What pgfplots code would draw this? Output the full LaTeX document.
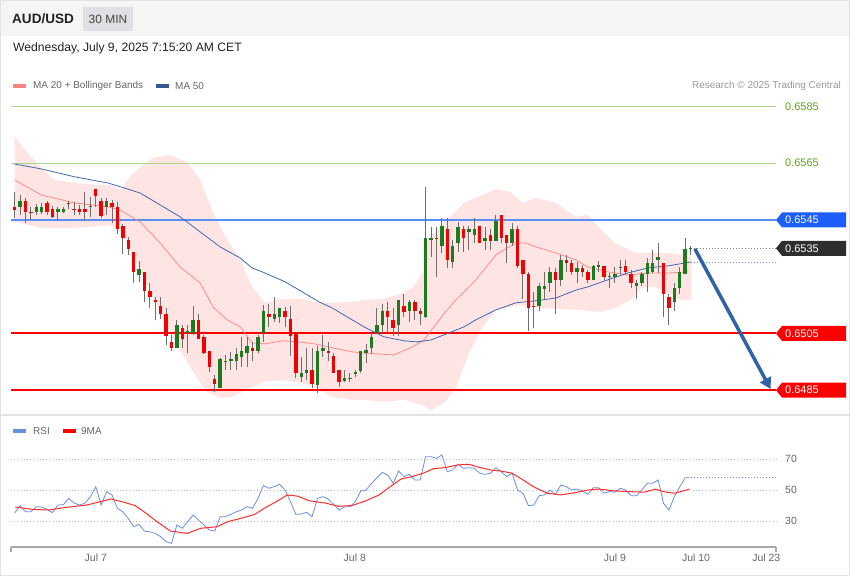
\documentclass[border=0pt]{standalone}
\usepackage{pgfplots}
\pgfplotsset{compat=1.18}
\usepackage{pgfplotstable}
\usepackage{fontspec}
\setmainfont{Liberation Sans}
\usetikzlibrary{arrows.meta}

\definecolor{hdr}{HTML}{F5F5F5}
\definecolor{boxg}{HTML}{E0E0E4}
\definecolor{txt}{HTML}{222222}
\definecolor{lgray}{HTML}{666666}
\definecolor{rgray}{HTML}{9A9A9A}
\definecolor{lvlgreen}{HTML}{A9D98B}
\definecolor{lvltxt}{HTML}{5CA11A}
\definecolor{lvlblue}{HTML}{5B8DF6}
\definecolor{tagblue}{HTML}{1E5EFF}
\definecolor{tagdark}{HTML}{2E2E2E}
\definecolor{lvlred}{HTML}{FF0000}
\definecolor{bbfill}{HTML}{FFE4E4}
\definecolor{ma20}{HTML}{FF8A8A}
\definecolor{ma50}{HTML}{3F68B2}
\definecolor{cup}{HTML}{1E7A1E}
\definecolor{cdn}{HTML}{F00000}
\definecolor{wick}{HTML}{6E6E6E}
\definecolor{arrowc}{HTML}{2F62A6}
\definecolor{rsic}{HTML}{6A8EE4}
\definecolor{mac}{HTML}{FF2E2E}
\definecolor{framec}{HTML}{E3E3E3}
\definecolor{axisg}{HTML}{A8A8A8}
\definecolor{gridg}{HTML}{BBBBBB}

\pgfplotstableread{
i O H L C
0 0.65497 0.65548 0.65456 0.65485
1 0.65497 0.65538 0.65468 0.65517
2 0.65517 0.65527 0.65438 0.65477
3 0.65479 0.65497 0.65450 0.65477
4 0.65477 0.65505 0.65468 0.65497
5 0.65477 0.65509 0.65471 0.65497
6 0.65509 0.65517 0.65468 0.65477
7 0.65489 0.65500 0.65456 0.65460
8 0.65477 0.65497 0.65448 0.65488
9 0.65477 0.65497 0.65475 0.65489
10 0.65511 0.65517 0.65488 0.65506
11 0.65489 0.65515 0.65468 0.65487
12 0.65488 0.65503 0.65468 0.65477
13 0.65488 0.65548 0.65448 0.65477
14 0.65496 0.65532 0.65460 0.65498
15 0.65558 0.65558 0.65497 0.65536
16 0.65517 0.65527 0.65456 0.65465
17 0.65497 0.65527 0.65468 0.65517
18 0.65509 0.65520 0.65438 0.65497
19 0.65497 0.65515 0.65401 0.65417
20 0.65429 0.65435 0.65329 0.65388
21 0.65380 0.65391 0.65327 0.65348
22 0.65338 0.65338 0.65229 0.65268
23 0.65256 0.65307 0.65233 0.65277
24 0.65268 0.65268 0.65159 0.65201
25 0.65200 0.65227 0.65139 0.65178
26 0.65168 0.65180 0.65098 0.65159
27 0.65148 0.65178 0.65100 0.65119
28 0.65119 0.65139 0.65010 0.65041
29 0.65019 0.65045 0.64989 0.64998
30 0.65000 0.65098 0.64998 0.65080
31 0.65068 0.65080 0.64998 0.65030
32 0.65053 0.65080 0.64980 0.65059
33 0.65053 0.65148 0.65045 0.65098
34 0.65098 0.65119 0.65031 0.65031
35 0.65039 0.65045 0.64978 0.64980
36 0.64989 0.64989 0.64913 0.64933
37 0.64890 0.64904 0.64843 0.64871
38 0.64857 0.64963 0.64857 0.64960
39 0.64951 0.64974 0.64921 0.64954
40 0.64951 0.64986 0.64921 0.64960
41 0.64951 0.64998 0.64921 0.64978
42 0.64968 0.65037 0.64933 0.64989
43 0.64980 0.65039 0.64930 0.65007
44 0.65000 0.65021 0.64951 0.64989
45 0.64989 0.65045 0.64980 0.65039
46 0.65051 0.65150 0.65021 0.65129
47 0.65119 0.65154 0.65074 0.65109
48 0.65100 0.65178 0.65092 0.65119
49 0.65109 0.65139 0.65086 0.65139
50 0.65129 0.65144 0.65074 0.65109
51 0.65100 0.65148 0.64971 0.65041
52 0.65047 0.65047 0.64893 0.64910
53 0.64898 0.64968 0.64880 0.64910
54 0.64910 0.64998 0.64886 0.64921
55 0.64921 0.64998 0.64857 0.64871
56 0.64869 0.65004 0.64839 0.64989
57 0.64989 0.65045 0.64968 0.65000
58 0.64989 0.65021 0.64951 0.64980
59 0.64971 0.64980 0.64910 0.64910
60 0.64921 0.64921 0.64860 0.64880
61 0.64883 0.64921 0.64880 0.64892
62 0.64890 0.64910 0.64880 0.64893
63 0.64906 0.64921 0.64898 0.64913
64 0.64919 0.64989 0.64912 0.64989
65 0.64980 0.65013 0.64947 0.64992
66 0.64998 0.65051 0.64980 0.65039
67 0.65053 0.65139 0.65051 0.65080
68 0.65080 0.65154 0.65051 0.65129
69 0.65129 0.65159 0.65051 0.65109
70 0.65098 0.65139 0.65041 0.65068
71 0.65080 0.65168 0.65041 0.65168
72 0.65148 0.65188 0.65109 0.65127
73 0.65129 0.65168 0.65090 0.65159
74 0.65159 0.65168 0.65098 0.65129
75 0.65129 0.65139 0.65080 0.65119
76 0.65109 0.65565 0.65104 0.65388
77 0.65380 0.65426 0.65321 0.65388
78 0.65388 0.65424 0.65250 0.65385
79 0.65358 0.65456 0.65333 0.65429
80 0.65417 0.65456 0.65280 0.65309
81 0.65300 0.65380 0.65280 0.65358
82 0.65368 0.65444 0.65338 0.65426
83 0.65417 0.65429 0.65338 0.65388
84 0.65407 0.65429 0.65344 0.65417
85 0.65397 0.65456 0.65368 0.65417
86 0.65429 0.65429 0.65368 0.65368
87 0.65377 0.65426 0.65344 0.65388
88 0.65397 0.65417 0.65344 0.65377
89 0.65377 0.65468 0.65377 0.65446
90 0.65468 0.65468 0.65368 0.65388
91 0.65397 0.65397 0.65297 0.65368
92 0.65368 0.65438 0.65358 0.65417
93 0.65417 0.65429 0.65280 0.65288
94 0.65309 0.65309 0.65171 0.65259
95 0.65259 0.65268 0.65060 0.65139
96 0.65148 0.65197 0.65068 0.65145
97 0.65148 0.65229 0.65129 0.65218
98 0.65207 0.65268 0.65168 0.65218
99 0.65229 0.65285 0.65197 0.65268
100 0.65268 0.65280 0.65119 0.65239
101 0.65239 0.65327 0.65218 0.65309
102 0.65309 0.65327 0.65268 0.65297
103 0.65297 0.65309 0.65256 0.65268
104 0.65268 0.65300 0.65229 0.65280
105 0.65280 0.65291 0.65248 0.65268
106 0.65268 0.65274 0.65229 0.65239
107 0.65239 0.65291 0.65239 0.65288
108 0.65285 0.65307 0.65268 0.65291
109 0.65288 0.65288 0.65239 0.65248
110 0.65250 0.65262 0.65209 0.65253
111 0.65248 0.65285 0.65229 0.65259
112 0.65280 0.65309 0.65259 0.65283
113 0.65288 0.65309 0.65259 0.65268
114 0.65259 0.65274 0.65209 0.65229
115 0.65218 0.65239 0.65171 0.65229
116 0.65229 0.65268 0.65218 0.65259
117 0.65259 0.65315 0.65197 0.65297
118 0.65268 0.65344 0.65262 0.65297
119 0.65309 0.65368 0.65262 0.65319
120 0.65297 0.65297 0.65109 0.65189
121 0.65178 0.65189 0.65080 0.65139
122 0.65159 0.65227 0.65129 0.65209
123 0.65209 0.65285 0.65189 0.65268
124 0.65259 0.65386 0.65259 0.65348
125 0.65348 0.65358 0.65327 0.65352
}\candles

\pgfplotstableread{
i rsi
0 35.2
1 39.9
2 36.0
3 36.0
4 39.2
5 39.0
6 37.5
7 35.4
8 40.3
9 40.5
10 44.6
11 41.5
12 40.3
13 41.5
14 45.7
15 52.1
16 40.3
17 48.9
18 46.8
19 38.2
20 35.9
21 31.7
22 26.3
23 27.8
24 23.5
25 23.0
26 22.0
27 19.9
28 16.7
29 15.6
30 27.4
31 25.3
32 29.6
33 33.9
34 30.7
35 27.4
36 24.2
37 23.5
38 32.8
39 32.8
40 34.3
41 36.0
42 37.1
43 39.2
44 38.2
45 44.6
46 52.8
47 51.1
48 52.2
49 53.7
50 50.0
51 42.5
52 34.3
53 34.5
54 35.6
55 32.8
56 44.6
57 45.7
58 44.2
59 40.8
60 37.1
61 39.2
62 39.2
63 42.5
64 49.4
65 50.0
66 54.3
67 57.9
68 61.4
69 59.6
70 54.3
71 62.2
72 58.6
73 60.1
74 56.5
75 56.5
76 71.5
77 71.5
78 70.4
79 72.6
80 61.8
81 62.9
82 66.6
83 64.0
84 64.4
85 64.0
86 60.8
87 60.1
88 60.8
89 64.4
90 61.8
91 58.6
92 60.8
93 50.0
94 47.9
95 39.9
96 40.3
97 46.3
98 46.8
99 50.0
100 47.2
101 53.2
102 52.2
103 50.0
104 50.6
105 49.4
106 47.2
107 51.5
108 51.5
109 47.9
110 49.0
111 48.6
112 51.1
113 50.0
114 46.3
115 46.3
116 50.0
117 54.3
118 54.3
119 56.5
120 41.4
121 37.1
122 45.7
123 52.1
124 57.9
125 57.9
}\rsidata

\newcommand{\fs}[1]{\fontsize{#1}{#1}\selectfont}

\begin{document}
\begin{tikzpicture}[x=1bp,y=1bp]
\fill[white] (0,0) rectangle (850,576);
\fill[hdr] (0,540) rectangle (850,576);
\draw[framec, line width=1bp] (0.5,0.5) rectangle (849.5,575.5);
\draw[framec, line width=1.2bp] (0,161) -- (850,161);

% header
\node[anchor=west, inner sep=0, text=txt, font=\bfseries\fs{13.6}] at (12,557) {AUD/USD};
\fill[boxg] (83,545) rectangle (133,569);
\node[inner sep=0, text=txt!85, font=\fs{12}] at (108,557) {30 MIN};
\node[anchor=west, inner sep=0, text=txt, font=\fs{12.2}] at (13,528) {Wednesday, July 9, 2025 7:15:20 AM CET};

% legend top
\fill[ma20!95!red] (13,487.5) rectangle (26,491.5);
\node[anchor=west, inner sep=0, text=lgray, font=\fs{10}] at (33,490) {MA 20 + Bollinger Bands};
\fill[ma50!85!black] (156,487.5) rectangle (169,491.5);
\node[anchor=west, inner sep=0, text=lgray, font=\fs{10}] at (175,490) {MA 50};
\node[anchor=east, inner sep=0, text=rgray, font=\fs{10}] at (841,490) {Research \textcopyright{} 2025 Trading Central};

% RSI legend
\fill[rsic] (13,143) rectangle (26,146.5);
\node[anchor=west, inner sep=0, text=lgray, font=\fs{10}] at (33,145) {RSI};
\fill[red] (63,143) rectangle (76,146.5);
\node[anchor=west, inner sep=0, text=lgray, font=\fs{10}] at (81,145) {9MA};

% ---------------- main price panel ----------------
\begin{axis}[
  at={(11bp,164bp)}, anchor=south west,
  width=765bp, height=316bp, scale only axis,
  xmin=-0.68, xmax=140.8, ymin=0.64773, ymax=0.65887,
  hide axis, clip=false,
]
% Bollinger band area
\addplot[draw=none, fill=bbfill] coordinates {
(0,0.65743) (1.9,0.65697) (4.9,0.65633) (7.4,0.65591) (11.1,0.65580) (14.8,0.65573) (17.6,0.65573) (19.5,0.65556) (21.9,0.65616) (25.6,0.65669) (28.7,0.65679) (31.9,0.65654) (34.3,0.65591) (36.7,0.65475) (39.3,0.65380) (41.7,0.65309) (43.9,0.65214) (46.3,0.65158) (49.4,0.65172) (52.6,0.65172) (55.5,0.65161) (58.7,0.65158) (62.4,0.65161) (64.6,0.65168) (68.3,0.65172) (72.0,0.65193) (73.8,0.65214) (75.7,0.65274) (76.4,0.65380) (79.4,0.65439) (83.1,0.65510) (85.3,0.65528) (89.0,0.65559) (91.6,0.65549) (94.0,0.65510) (96.4,0.65528) (100.1,0.65510) (103.8,0.65461) (106.0,0.65468) (108.4,0.65415) (111.0,0.65369) (114.7,0.65334) (118.4,0.65334) (120.8,0.65334) (125.1,0.65320)
(125.1,0.65168) (123.2,0.65168) (120.8,0.65193) (118.4,0.65214) (115.8,0.65210) (114.7,0.65179) (111.6,0.65143) (108.4,0.65126) (103.8,0.65133) (97.1,0.65140) (93.4,0.65150) (89.0,0.65133) (86.6,0.65073) (84.0,0.64981) (81.6,0.64858) (79.4,0.64805) (77.0,0.64780) (75.7,0.64795) (72.0,0.64816) (68.3,0.64809) (64.6,0.64816) (62.4,0.64816) (58.7,0.64826) (55.5,0.64862) (52.6,0.64876) (49.4,0.64886) (46.3,0.64879) (43.9,0.64862) (40.2,0.64826) (38.0,0.64823) (35.6,0.64844) (33.3,0.64904) (30.6,0.64992) (27.8,0.65080) (25.0,0.65203) (21.9,0.65327) (19.5,0.65408) (17.6,0.65432) (11.1,0.65422) (4.9,0.65422) (0,0.65443)
} -- cycle;

% level lines
\addplot[lvlgreen, line width=1bp] coordinates {(-0.68,0.6585) (140.8,0.6585)};
\addplot[lvlgreen, line width=1bp] coordinates {(-0.68,0.6565) (140.8,0.6565)};
\addplot[lvlblue, line width=1.6bp] coordinates {(-0.68,0.6545) (140.8,0.6545)};
\addplot[lvlred, line width=2bp] coordinates {(-0.68,0.6505) (140.8,0.6505)};
\addplot[lvlred, line width=2bp] coordinates {(-0.68,0.6485) (140.8,0.6485)};

% MA 20 and MA 50
\addplot[ma20, line width=0.8bp] coordinates {
(0,0.65591) (4.9,0.65538) (11.1,0.65510) (17.3,0.65496) (19.5,0.65485) (23.2,0.65443) (26.9,0.65369) (30.6,0.65284) (34.3,0.65228) (36.7,0.65143) (39.3,0.65098) (41.7,0.65073) (43.9,0.65017) (46.3,0.65013) (49.4,0.65024) (52.6,0.65020) (55.5,0.65013) (58.7,0.64999) (62.4,0.64985) (64.6,0.64981) (70.1,0.64974) (73.3,0.65000) (75.7,0.65027) (79.4,0.65120) (81.6,0.65168) (83.1,0.65196) (85.3,0.65239) (89.0,0.65327) (92.7,0.65369) (94.5,0.65369) (96.4,0.65355) (100.1,0.65334) (103.8,0.65309) (106.0,0.65284) (109.7,0.65267) (113.4,0.65256) (117.1,0.65263) (120.8,0.65263) (124.5,0.65267)};
\addplot[ma50, line width=0.8bp] coordinates {
(0,0.65647) (4.9,0.65630) (11.1,0.65602) (17.3,0.65580) (20.9,0.65559) (23.2,0.65545) (26.9,0.65503) (30.6,0.65461) (34.3,0.65408) (38.0,0.65355) (41.7,0.65316) (43.9,0.65281) (46.3,0.65263) (50.0,0.65232) (52.6,0.65203) (56.3,0.65161) (58.7,0.65140) (62.4,0.65098) (64.6,0.65073) (68.3,0.65038) (72.0,0.65024) (74.4,0.65020) (77.0,0.65027) (79.4,0.65045) (83.1,0.65073) (85.3,0.65098) (89.0,0.65133) (92.7,0.65158) (96.4,0.65165) (100.1,0.65175) (103.8,0.65203) (106.0,0.65214) (109.7,0.65239) (113.4,0.65263) (117.1,0.65281) (120.8,0.65288) (125.1,0.65302)};

% dotted projections
\addplot[gray, line width=0.8bp, dash pattern=on 1.2bp off 1.8bp] coordinates {(125.1,0.6535) (140.8,0.6535)};
\addplot[lvlblue, line width=0.8bp, dash pattern=on 1.2bp off 1.8bp] coordinates {(125.1,0.65302) (140.8,0.65302)};

% candles: wicks
\addplot[draw=none, mark=none, forget plot,
  error bars/.cd, y dir=plus, y explicit, error mark=none,
  error bar style={line width=1bp, draw=wick, solid}]
  table[x=i, y=L, y error plus expr={\thisrow{H}-\thisrow{L}}] {\candles};
% up bodies
\addplot[draw=none, mark=none, forget plot,
  error bars/.cd, y dir=plus, y explicit, error mark=none,
  error bar style={line width=3.4bp, draw=cup, solid}]
  table[x=i, y=O, y error plus expr={max(\thisrow{C}-\thisrow{O},0)}] {\candles};
% down bodies
\addplot[draw=none, mark=none, forget plot,
  error bars/.cd, y dir=plus, y explicit, error mark=none,
  error bar style={line width=3.4bp, draw=cdn, solid}]
  table[x=i, y=C, y error plus expr={max(\thisrow{O}-\thisrow{C},0)}] {\candles};

% forecast arrow
\addplot[arrowc, line width=3.5bp, -{Triangle[length=11bp,width=12bp]}] coordinates {(125.8,0.65348) (139.8,0.64854)};

% right-hand labels
\node[anchor=west, inner sep=0, text=lvltxt, font=\fs{11}] at ([xshift=9bp]axis cs:140.8,0.6585) {0.6585};
\node[anchor=west, inner sep=0, text=lvltxt, font=\fs{11}] at ([xshift=9bp]axis cs:140.8,0.6565) {0.6565};
\fill[tagblue] (axis cs:140.8,0.6545) -- ++(6bp,7.5bp) -- ++(64bp,0bp) -- ++(0bp,-15bp) -- ++(-64bp,0bp) -- cycle;
\node[anchor=west, inner sep=0, text=white, font=\fs{11}] at ([xshift=9bp]axis cs:140.8,0.6545) {0.6545};
\fill[tagdark] (axis cs:140.8,0.6535) -- ++(6bp,7.5bp) -- ++(64bp,0bp) -- ++(0bp,-15bp) -- ++(-64bp,0bp) -- cycle;
\node[anchor=west, inner sep=0, text=white, font=\fs{11}] at ([xshift=9bp]axis cs:140.8,0.6535) {0.6535};
\fill[lvlred] (axis cs:140.8,0.6505) -- ++(6bp,7.5bp) -- ++(64bp,0bp) -- ++(0bp,-15bp) -- ++(-64bp,0bp) -- cycle;
\node[anchor=west, inner sep=0, text=white, font=\fs{11}] at ([xshift=9bp]axis cs:140.8,0.6505) {0.6505};
\fill[lvlred] (axis cs:140.8,0.6485) -- ++(6bp,7.5bp) -- ++(64bp,0bp) -- ++(0bp,-15bp) -- ++(-64bp,0bp) -- cycle;
\node[anchor=west, inner sep=0, text=white, font=\fs{11}] at ([xshift=9bp]axis cs:140.8,0.6485) {0.6485};
\end{axis}

% ---------------- RSI panel ----------------
\begin{axis}[
  at={(11bp,29bp)}, anchor=south west,
  width=765bp, height=107bp, scale only axis,
  xmin=-0.68, xmax=140.8, ymin=13.23, ymax=82.26,
  axis x line*=bottom, axis y line*=right,
  x axis line style={draw=axisg, line width=1.6bp, -},
  y axis line style={draw=none},
  xtick={15,62.9,111,126,139},
  xticklabels={Jul 7,Jul 8,Jul 9,Jul 10,Jul 23},
  ytick={30,50,70},
  ymajorgrids,
  grid style={gridg, line width=0.8bp, dash pattern=on 1bp off 2.2bp},
  major tick length=0pt,
  /pgf/number format/assume math mode=true,
  tick label style={font=\fs{10.5}, text=lgray},
  xticklabel style={anchor=center, yshift=-11bp},
  yticklabel style={anchor=center, xshift=15bp},
  clip=false,
]
\addplot[rsic, line width=0.8bp] table[x=i, y=rsi] {\rsidata};
\addplot[mac, line width=1bp] coordinates {
(0.1,39) (3.3,37.5) (6.3,37.1) (9.3,38.7) (13.3,40.3) (15.3,42) (17.8,44.2) (20.3,42) (22.3,39.9) (24.3,35) (26.3,29.6) (28.8,23.5) (31.9,22) (34.4,25.3) (37.4,26.3) (39.4,29.6) (42.4,32.2) (44.4,34.3) (46.4,38.7) (48.4,42.5) (50.4,46.8) (52.4,46) (54.4,43.1) (57.4,41.6) (59.9,39.5) (62.4,40) (64.9,43) (67.4,46.8) (69.4,52) (71.4,57) (73.4,58.6) (75.5,60.8) (77.5,63.8) (79.5,64.4) (82.0,66.2) (84.0,66.6) (85.5,65) (88.0,62.9) (90.0,62.2) (92.0,60.8) (94.0,56.5) (96.0,52) (98.5,47.9) (101.0,46.8) (103.5,48.2) (106.0,50) (108.0,50.6) (111.0,49.4) (114.0,48.9) (116.5,48.6) (118.5,50.6) (120.0,48.9) (122.0,47.9) (123.6,49.4) (124.8,50.6)};
\addplot[rsic, line width=0.8bp, dash pattern=on 1.2bp off 1.8bp] coordinates {(125.1,57.9) (140.8,57.9)};
\draw[axisg, line width=1.2bp] (rel axis cs:0,0) -- ++(0bp,-5bp);
\draw[axisg, line width=1.2bp] (rel axis cs:1,0) -- ++(0bp,-5bp);
\end{axis}

\pgfresetboundingbox
\path[use as bounding box] (0,0) rectangle (850,576);
\end{tikzpicture}
\end{document}
